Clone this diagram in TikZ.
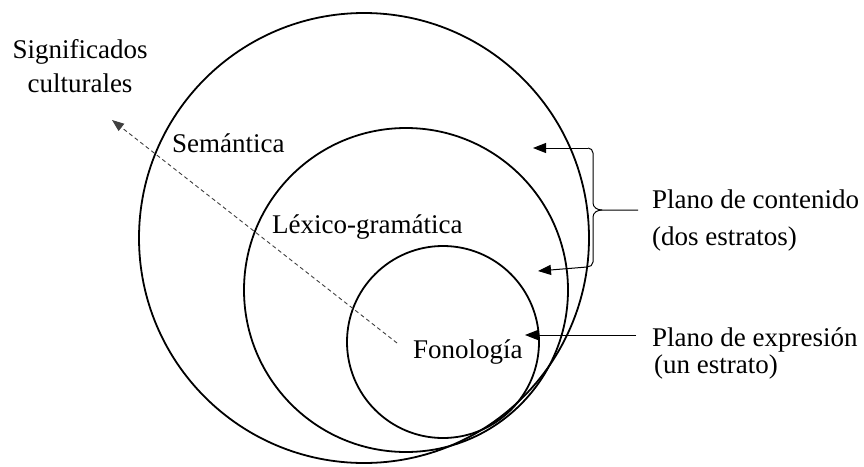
\documentclass[tikz,border=0pt]{standalone}
\usepackage{fontspec}
\setmainfont{Liberation Serif}
\usetikzlibrary{arrows.meta}
\begin{document}
\begin{tikzpicture}[x=1pt,y=-1pt,
  circ/.style={line width=1.8pt},
  lbl/.style={inner sep=0pt,font=\fontsize{27}{31}\selectfont},
  arr/.style={line width=1pt,-{Triangle[length=13pt,width=10pt]}},
  dasharr/.style={line width=0.9pt,draw=black!75,dash pattern=on 4pt off 3pt,-{Triangle[length=12pt,width=9pt]}},
  bracestyle/.style={line width=1pt}]
\useasboundingbox (0,0) rectangle (864,466);
% circles
\draw[circ] (364,238) circle[radius=225pt];
\draw[circ] (406,290) circle[radius=162pt];
\draw[circ] (443,342) circle[radius=96pt];
% labels
\node[lbl,anchor=base] (sig1) at (80,58) {Significados};
\node[lbl,anchor=base] (sig2) at (80,92) {culturales};
\node[lbl,anchor=base west] (sem) at (172,152) {Semántica};
\node[lbl,anchor=base west] (lex) at (272,233) {Léxico-gramática};
\node[lbl,anchor=base west] (fon) at (413,358) {Fonología};
\node[lbl,anchor=base west] (pc1) at (652,208) {Plano de contenido};
\node[lbl,anchor=base west] (pc2) at (652,245) {(dos estratos)};
\node[lbl,anchor=base west] (pe1) at (652,346) {Plano de expresión};
\node[lbl,anchor=base west] (pe2) at (654,373) {(un estrato)};
% coordinates
\coordinate (dStart) at (397,343);
\coordinate (dTip) at (112,120);
\coordinate (eStart) at (636,335);
\coordinate (eTip) at (525,335);
\coordinate (bTop) at (588,148);
\coordinate (bBot) at (587,267);
\coordinate (bCusp) at (602,210);
\coordinate (bEnd) at (638,210);
\coordinate (tipA) at (533,148);
\coordinate (tipB) at (538,271);
% dashed arrow
\draw[dasharr] (dStart) -- (dTip);
% expression arrow
\draw[arr] (eStart) -- (eTip);
% brace
\draw[bracestyle] (bTop) to[out=0,in=90] (593,153) -- (593,203) to[out=-90,in=180] (bCusp) -- (bEnd);
\draw[bracestyle] (bCusp) to[out=180,in=90] (593,217) -- (593,262) to[out=-90,in=0] (bBot);
\draw[arr] (bTop) -- (tipA);
\draw[arr] (bBot) -- (tipB);
\end{tikzpicture}
\end{document}
